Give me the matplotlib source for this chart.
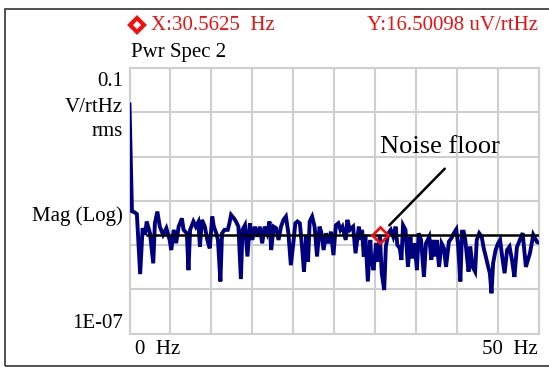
import numpy as np
import matplotlib
matplotlib.use("Agg")
import matplotlib.pyplot as plt
from matplotlib.patches import Rectangle
from matplotlib.lines import Line2D

# spectrum readings: frequency (Hz) and magnitude (uV/rtHz)
freq = [0.0, 0.3, 0.6, 0.9, 1.3, 1.6, 1.9, 2.1, 2.5, 2.9, 3.1, 3.4, 3.7, 4.1, 4.5,
        4.9, 5.1, 5.4, 5.7, 6.0, 6.4, 6.6, 7.0, 7.2, 7.4, 7.8, 8.1, 8.4, 8.6, 8.85,
        9.2, 9.5, 9.8, 10.1, 10.3, 10.6, 10.8, 11.1, 11.3, 11.6, 12.0, 12.2, 12.4,
        12.75, 13.0, 13.3, 13.6, 13.8, 14.1, 14.4, 14.7, 15.0, 15.3, 15.6, 15.9,
        16.2, 16.5, 16.8, 17.1, 17.3, 17.6, 17.9, 18.2, 18.5, 18.8, 19.1, 19.4,
        19.7, 20.0, 20.25, 20.5, 20.8, 21.1, 21.3, 21.6, 21.8, 22.0, 22.3, 22.6,
        22.9, 23.2, 23.4, 23.7, 24.0, 24.3, 24.6, 24.9, 25.2, 25.5, 25.75, 26.0,
        26.4, 26.6, 26.9, 27.3, 27.6, 28.0, 28.2, 28.4, 28.6, 28.8, 29.1, 29.4,
        29.5, 29.8, 30.1, 30.3, 30.5625, 30.8, 31.1, 31.3, 31.6, 31.9, 32.2, 32.5,
        32.7, 33.0, 33.2, 33.4, 33.7, 34.0, 34.3, 34.5, 34.8, 35.1, 35.3, 35.6,
        35.95, 36.2, 36.6, 36.85, 37.0, 37.3, 37.5, 37.8, 38.1, 38.4, 38.65, 39.0,
        39.3, 39.6, 39.9, 40.1, 40.4, 40.6, 40.8, 41.0, 41.2, 41.4, 41.6, 41.9,
        42.2, 42.4, 42.7, 43.0, 43.25, 43.5, 43.8, 44.0, 44.2, 44.4, 44.7, 45.0,
        45.25, 45.5, 45.8, 46.1, 46.4, 46.7, 47.0, 47.3, 48.0, 48.4, 48.9, 49.3,
        49.75, 50.0]
mag_uv = [15000, 58, 55, 50, 2.2, 24, 17, 34, 18.4, 3.85, 31, 57, 26, 17, 24,
          13, 7.7, 22, 11, 26, 40, 22, 18.4, 2.7, 22, 34, 26, 33, 9.2, 37,
          26, 13, 8.4, 44, 26, 18.4, 13, 1.5, 18.4, 22, 22, 31, 48,
          40, 34, 26, 1.7, 22, 28, 5.5, 31, 13, 26, 15.4, 26,
          10.9, 26, 18.4, 34, 7.7, 26, 24, 13, 26, 37, 44, 18.4,
          3.5, 10.9, 31, 34, 31, 7.7, 2.5, 17, 4.2, 34, 44, 26,
          5.5, 26, 20, 7.7, 18.4, 10.9, 20, 5.9, 28, 31, 22, 26,
          13, 37, 22, 26, 6.5, 26, 13, 22, 5.5, 17, 1.5, 13,
          5.5, 2.7, 10.9, 4.2, 16.5, 2.3, 0.96, 9.2, 18.4, 22, 15.4, 26,
          10, 8.4, 4.6, 28, 22, 3.2, 15.4, 5.0, 10.9, 2.7, 18.4, 13,
          1.9, 10.9, 15.4, 4.6, 13, 5.5, 13, 3.2, 10.9, 8.4, 3.2, 11.9,
          14.2, 18.4, 22.6, 10.9, 1.5, 20, 20, 13, 5.5, 2.5, 9.2, 3.2,
          2.5, 13, 18.4, 15.4, 8.4, 5.5, 3.2, 2.3, 0.81, 3.9, 7.7, 10.9,
          13, 5.5, 2.3, 7.7, 9.2, 4.6, 1.9, 8.9, 18.6, 3.2, 6.6, 17,
          11.7, 11.2]

# cursor and noise floor
cursor_x = 30.5625          # Hz
cursor_y = 16.50098         # uV/rtHz
floor_start = 2.14          # Hz
floor_level = 16.5          # uV/rtHz

W, H = 549, 367
fig = plt.figure(figsize=(W / 100, H / 100), dpi=100)
plt.rcParams['font.family'] = ['Liberation Serif', 'DejaVu Serif']
RED = '#f01010'


def px(x, y):
    return x / W, 1 - y / H


# outer frame
fig.patches.append(Rectangle(px(5, 366), (560 - 5) / W, (366 - 9) / H,
                             transform=fig.transFigure, fill=False,
                             edgecolor='#333333', linewidth=1.2))

ax = fig.add_axes([129.5 / W, 33.5 / H, 409.5 / W, 265.5 / H])
ax.set_yscale('log')
ax.set_xlim(0, 50)
ax.set_ylim(1e-7, 1e-1)
ax.set_xticks(np.arange(0, 51, 5))
ax.set_yticks([10.0 ** k for k in range(-7, 0)])
ax.yaxis.set_minor_locator(matplotlib.ticker.NullLocator())
ax.tick_params(which='both', length=0, labelleft=False, labelbottom=False)
ax.grid(True, color='#cfcfcf', linewidth=1.5)
for s in ax.spines.values():
    s.set_color('#cfcfcf')
    s.set_linewidth(1.5)

ax.plot(freq, np.array(mag_uv) * 1e-6, color='#00007f', linewidth=2.8,
        solid_joinstyle='miter', zorder=3)
ax.plot([floor_start, 50], [floor_level * 1e-6] * 2, color='black',
        linewidth=1.8, zorder=4)
ax.plot([cursor_x], [cursor_y * 1e-6], marker='D', markersize=8,
        markerfacecolor='none', markeredgecolor=RED,
        markeredgewidth=2, zorder=5)

# annotation
ax.annotate('', xy=(387.3, H - 227.3), xycoords='figure pixels',
            xytext=(446.7, H - 166.7), textcoords='figure pixels',
            arrowprops=dict(arrowstyle='-', color='black', linewidth=1.8))
fig.text(*px(440, 147), 'Noise floor', fontsize=19, ha='center', va='center')

# cursor readout
fig.add_artist(Line2D([137 / W], [1 - 25 / H], transform=fig.transFigure,
                      marker='D', markersize=7.5, markerfacecolor='none',
                      markeredgecolor=RED, markeredgewidth=3))
fig.text(*px(151, 25), 'X:30.5625  Hz', fontsize=15, color=RED,
         ha='left', va='center')
fig.text(*px(538, 25), 'Y:16.50098 uV/rtHz', fontsize=15, color=RED,
         ha='right', va='center')
fig.text(*px(131, 52), 'Pwr Spec 2', fontsize=15, ha='left', va='center')

# axis captions
for label, y in [('0.1', 82), ('V/rtHz', 107), ('rms', 132),
                 ('Mag (Log)', 216), ('1E-07', 323)]:
    fig.text(*px(123, y), label, fontsize=15, ha='right', va='center')
fig.text(*px(135, 349), '0  Hz', fontsize=15, ha='left', va='center')
fig.text(*px(538, 349), '50  Hz', fontsize=15, ha='right', va='center')

fig.savefig('out.png', dpi=100)
